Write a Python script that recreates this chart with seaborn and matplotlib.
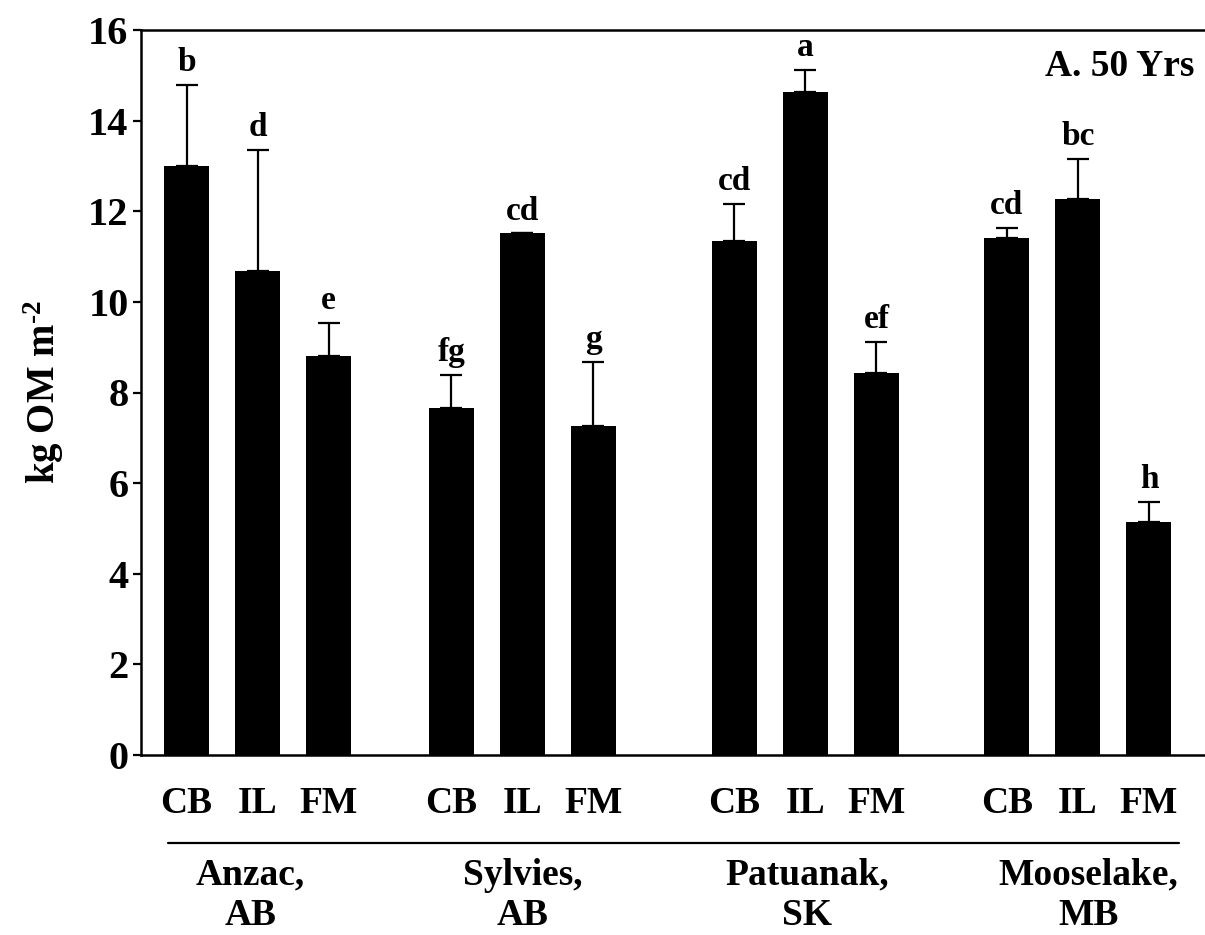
import numpy as np
import pandas as pd
import matplotlib
matplotlib.use("Agg")
import matplotlib.pyplot as plt
import matplotlib.transforms as mtransforms
import seaborn as sns

# ---- data ----
sites = ["Anzac,\nAB", "Sylvies,\nAB", "Patuanak,\nSK", "Mooselake,\nMB"]
treatments = ["CB", "IL", "FM"]
om_anzac = [13.00, 10.68, 8.81]
om_sylvies = [7.66, 11.51, 7.25]
om_patuanak = [11.35, 14.63, 8.43]
om_mooselake = [11.41, 12.27, 5.15]
se_anzac = [1.79, 2.68, 0.73]
se_sylvies = [0.73, 0.00, 1.43]
se_patuanak = [0.81, 0.49, 0.69]
se_mooselake = [0.22, 0.88, 0.44]
letters_anzac = ["b", "d", "e"]
letters_sylvies = ["fg", "cd", "g"]
letters_patuanak = ["cd", "a", "ef"]
letters_mooselake = ["cd", "bc", "h"]
panel_label = "A. 50 Yrs"
y_label = "kg OM m$^{\\text{-2}}$"

# ---- layout (group placement along the x axis) ----
group_start = [0.0, 3.732, 7.718, 11.556]
bar_offset = [0.0, 1.0, 2.0]
site_label_shift = [-0.1, 0.0, 0.02, 0.15]

means = [om_anzac, om_sylvies, om_patuanak, om_mooselake]
ses = [se_anzac, se_sylvies, se_patuanak, se_mooselake]
letters = [letters_anzac, letters_sylvies, letters_patuanak, letters_mooselake]

rows = []
for gi, site in enumerate(sites):
    for ti, trt in enumerate(treatments):
        rows.append(dict(site=site, treatment=trt,
                         pos=round(group_start[gi] + bar_offset[ti], 3),
                         om=means[gi][ti], se=ses[gi][ti],
                         letter=letters[gi][ti]))
df = pd.DataFrame(rows)

sns.set_style("ticks")
plt.rcParams["font.family"] = ["Liberation Serif", "DejaVu Serif"]
plt.rcParams["font.weight"] = "bold"
plt.rcParams["text.color"] = "black"
plt.rcParams["axes.labelcolor"] = "black"
plt.rcParams["xtick.color"] = "black"
plt.rcParams["ytick.color"] = "black"
plt.rcParams["axes.edgecolor"] = "black"
plt.rcParams["mathtext.fontset"] = "custom"
plt.rcParams["mathtext.rm"] = "Liberation Serif:bold"
plt.rcParams["mathtext.bf"] = "Liberation Serif:bold"
plt.rcParams["mathtext.it"] = "Liberation Serif:bold"

fig = plt.figure(figsize=(12.05, 9.35), dpi=100)
ax = fig.add_axes([141 / 1205, (935 - 755) / 935, (1205 - 141) / 1205, 725 / 935])

sns.barplot(data=df, x="pos", y="om", native_scale=True, color="black",
            edgecolor="black", linewidth=0, width=0.634, errorbar=None,
            saturation=1, ax=ax)

lower = np.zeros(len(df))
ax.errorbar(df["pos"], df["om"], yerr=[lower, df["se"]], fmt="none",
            ecolor="black", elinewidth=1.6, capsize=8, capthick=1.6, zorder=3)

for _, r in df.iterrows():
    ax.annotate(r["letter"], (r["pos"], r["om"] + r["se"]), xytext=(0, 10),
                textcoords="offset points", ha="center", va="baseline",
                fontsize=24, fontweight="bold", color="black")

ax.set_xlim(-0.641, 14.345)
ax.set_ylim(0, 16)
ax.set_yticks(np.arange(0, 17, 2))
ax.set_yticklabels([str(v) for v in range(0, 17, 2)], fontsize=29, fontweight="bold")
ax.set_xticks(df["pos"])
ax.set_xticklabels(df["treatment"], fontsize=27, fontweight="bold")
ax.tick_params(axis="x", length=0, pad=22, colors="black")
ax.tick_params(axis="y", direction="out", length=6, width=1.6, pad=3, colors="black")
ax.set_xlabel("")
ax.set_ylabel(y_label, fontsize=28, fontweight="bold", labelpad=16, color="black")

for side in ["left", "top", "bottom"]:
    ax.spines[side].set_linewidth(1.8)
    ax.spines[side].set_color("black")
ax.spines["right"].set_visible(False)
ax.spines["top"].set_visible(True)

trans = mtransforms.blended_transform_factory(ax.transData, ax.transAxes)
ax.plot([-0.26, 13.98], [-0.1214, -0.1214], color="black", lw=1.6,
        transform=trans, clip_on=False)
for gi, site in enumerate(sites):
    ax.text(group_start[gi] + bar_offset[1] + site_label_shift[gi], -0.142, site,
            transform=trans, ha="center", va="top", fontsize=27,
            fontweight="bold", linespacing=1.2, multialignment="center",
            color="black")

ax.text(0.9897, 0.9366, panel_label, transform=ax.transAxes, ha="right",
        va="baseline", fontsize=27, fontweight="bold", color="black")

fig.savefig("out.png", dpi=100)
